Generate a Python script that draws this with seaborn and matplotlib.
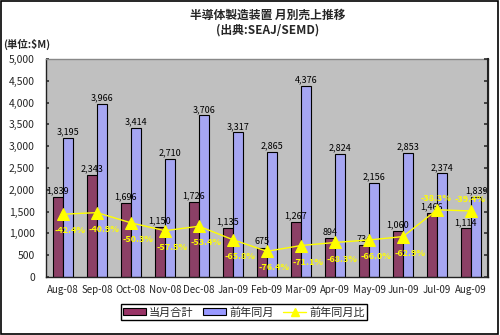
import numpy as np
import pandas as pd
import matplotlib
matplotlib.use("Agg")
import matplotlib.pyplot as plt
import seaborn as sns
from matplotlib.patches import Rectangle, Patch
from matplotlib.lines import Line2D

months = ["Aug-08", "Sep-08", "Oct-08", "Nov-08", "Dec-08", "Jan-09", "Feb-09",
          "Mar-09", "Apr-09", "May-09", "Jun-09", "Jul-09", "Aug-09"]
current = [1839, 2343, 1696, 1150, 1726, 1135, 675, 1267, 894, 734, 1060, 1466, 1114]
prev_year = [3195, 3966, 3414, 2710, 3706, 3317, 2865, 4376, 2824, 2156, 2853, 2374, 1839]
yoy = [-42.4, -40.9, -50.3, -57.5, -53.4, -65.8, -76.4, -71.1, -68.3, -66.0, -62.9, -38.3, -39.4]
series_names = ["当月合計", "前年同月", "前年同月比"]
title = "半導体製造装置 月別売上推移\n(出典:SEAJ/SEMD)"
unit_label = "(単位:$M)"

sns.set_theme(style="white")
plt.rcParams["font.family"] = ["Noto Sans CJK JP", "DejaVu Sans"]

df = pd.DataFrame({
    "month": months * 2,
    "value": current + prev_year,
    "series": [series_names[0]] * len(months) + [series_names[1]] * len(months),
})

fig = plt.figure(figsize=(5.0, 3.35), dpi=100)
ax = fig.add_axes([0.092, 0.173, 0.884, 0.651])
ax.set_facecolor("#C0C0C0")

sns.barplot(data=df, x="month", y="value", hue="series", order=months,
            hue_order=series_names[:2], palette=["#993366", "#9999FF"],
            width=0.6, edgecolor="black", linewidth=0.8, ax=ax, legend=False,
            errorbar=None)

for cont in ax.containers:
    labels = [f"{int(v):,}" for v in cont.datavalues]
    ax.bar_label(cont, labels=labels, fontsize=6.5, padding=1, color="black")

ax.set_ylim(0, 5000)
ax.set_xlim(-0.5, len(months) - 0.5)
ax.set_yticks(np.arange(0, 5001, 500))
ax.set_yticklabels([f"{int(v):,}" for v in np.arange(0, 5001, 500)], fontsize=7.5)
ax.set_xticks(range(len(months)))
ax.set_xticklabels(months, fontsize=7)
ax.set_xticks(np.arange(-0.5, len(months), 1), minor=True)
ax.tick_params(axis="x", which="major", length=0, pad=6)
ax.tick_params(axis="x", which="minor", length=2, direction="in", color="#555555")
ax.tick_params(axis="y", length=2, direction="in", pad=8, color="#333333")
ax.set_xlabel("")
ax.set_ylabel("")
for s in ["left", "bottom"]:
    ax.spines[s].set_color("#222222")
    ax.spines[s].set_linewidth(1.0)
for s in ["top", "right"]:
    ax.spines[s].set_color("#888888")
    ax.spines[s].set_linewidth(1.0)

ax2 = ax.twinx()
sns.lineplot(x=np.arange(len(months)), y=yoy, ax=ax2, color="#FFFF00",
             linewidth=1.0, marker="^", markersize=8, markeredgecolor="#FFFF00",
             markerfacecolor="#FFFF00")
ax2.set_ylim(-100, 100)
ax2.set_yticks(np.linspace(-100, 100, 11))
ax2.set_yticklabels([])
ax2.tick_params(axis="y", length=3, direction="in", color="#333333")
ax2.spines["right"].set_color("#222222")
ax2.spines["right"].set_linewidth(1.5)
for s in ["top", "left", "bottom"]:
    ax2.spines[s].set_visible(False)

for i, v in enumerate(yoy):
    if i >= len(yoy) - 2:
        off = (-1, 8)
    else:
        off = (5, -12)
    ax2.annotate(f"{v:.1f}%", (i, v), xytext=off, textcoords="offset points",
                 ha="center", va="center", fontsize=6.5, fontweight="bold",
                 color="#FFFF00")

fig.text(0.535, 0.932, title, ha="center", va="center", fontsize=8.5,
         fontweight="bold", linespacing=1.15)
fig.text(0.006, 0.868, unit_label, ha="left", va="center", fontsize=7.5,
         fontweight="bold")

handles = [
    Patch(facecolor="#993366", edgecolor="black", linewidth=0.8),
    Patch(facecolor="#9999FF", edgecolor="black", linewidth=0.8),
    Line2D([0], [0], color="#FFFF00", marker="^", markersize=6, linewidth=1.0),
]
leg = fig.legend(handles, series_names, loc="center", ncol=3,
                 bbox_to_anchor=(0.488, 0.068), fontsize=8, frameon=True,
                 fancybox=False, edgecolor="black", handlelength=2.0,
                 handleheight=0.6, handletextpad=0.3, columnspacing=0.9,
                 borderpad=0.25, framealpha=1)
leg.get_frame().set_linewidth(1.0)

fig.patches.append(Rectangle((0.002, 0.003), 0.994, 0.994, transform=fig.transFigure,
                             fill=False, edgecolor="black", linewidth=1.2))

fig.savefig("out.png", dpi=100, facecolor="white")
